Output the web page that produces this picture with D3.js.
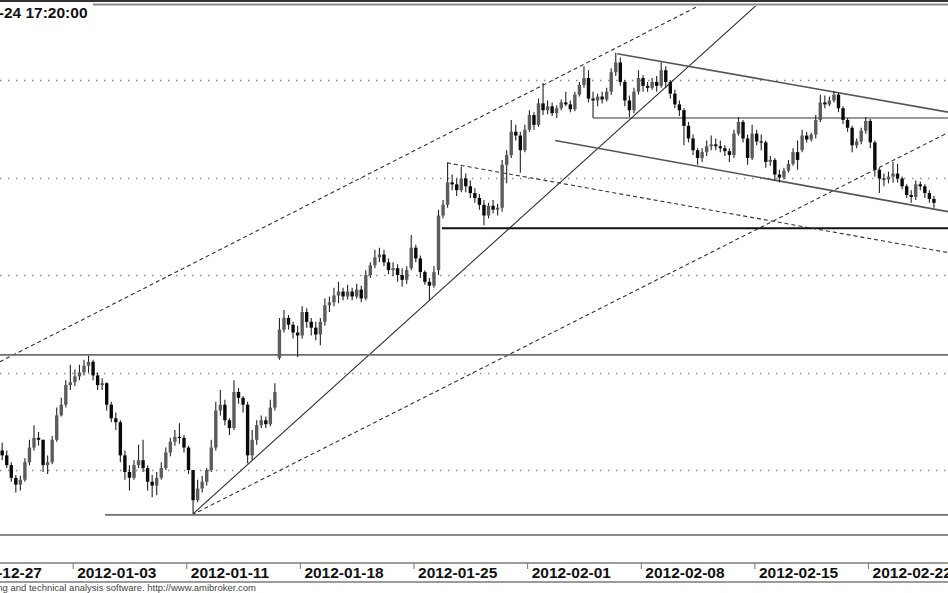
<!DOCTYPE html>
<html>
<head>
<meta charset="utf-8">
<script src="https://cdn.jsdelivr.net/npm/d3@7"></script>
<style>
  html, body { margin: 0; padding: 0; background: #fff; overflow: hidden; }
  svg { display: block; font-family: "Liberation Sans", Arial, sans-serif; }
</style>
</head>
<body>
<div class="container"></div>
<script>
// trading days shown on the chart (first one is mostly off screen)
var dates = ["2011-12-27","2011-12-28","2011-12-29","2011-12-30","2012-01-02","2012-01-03","2012-01-04","2012-01-05",
  "2012-01-09","2012-01-10","2012-01-11","2012-01-12","2012-01-13","2012-01-16","2012-01-17","2012-01-18",
  "2012-01-19","2012-01-20","2012-01-23","2012-01-24","2012-01-25","2012-01-26","2012-01-27","2012-01-30",
  "2012-01-31","2012-02-01","2012-02-02","2012-02-03","2012-02-06","2012-02-07","2012-02-08","2012-02-09",
  "2012-02-10","2012-02-13","2012-02-14","2012-02-15","2012-02-16","2012-02-17","2012-02-20","2012-02-21",
  "2012-02-22","2012-02-23","2012-02-24"];
var tickDates = ["2011-12-27","2012-01-03","2012-01-11","2012-01-18","2012-01-25","2012-02-01","2012-02-08","2012-02-15","2012-02-22"];
var gridPrices = [2100, 2200, 2300, 2400, 2500];
var firstDay = 1;      // bars start on 2011-12-28
var barsPerDay = 5;

var open = [
  2123,2126,2123,2118,2120, 2115,2105,2092,2085,2090, 2108,2123,2133,2131,2105, 2108,2131,2156,2167,2187,
  2190,2196,2200,2207,2211, 2197,2187,2189,2167,2153, 2149,2115,2098,2092,2105, 2110,2102,2088,2084,2092,
  2102,2118,2129,2134,2133, 2123,2100,2069,2081,2088, 2100,2123,2161,2167,2151, 2143,2180,2174,2167,2115,
  2131,2146,2151,2147,2164, 2215,2244,2256,2249,2241, 2238,2262,2252,2246,2239, 2252,2269,2272,2279,2283,
  2278,2283,2278,2285,2276, 2300,2310,2318,2321,2313, 2305,2307,2300,2295,2307, 2328,2317,2303,2293,2289,
  2305,2361,2372,2395,2393, 2387,2399,2391,2384,2379, 2372,2361,2371,2367,2369, 2413,2423,2447,2443,2428,
  2449,2464,2454,2476,2469, 2473,2466,2471,2477,2475, 2470,2485,2495,2502,2481, 2479,2483,2480,2488,2508,
  2518,2498,2479,2469,2488, 2502,2494,2492,2498,2494, 2510,2498,2486,2475,2469, 2453,2440,2428,2420,2426,
  2432,2434,2432,2430,2427, 2423,2445,2457,2440,2420, 2445,2437,2436,2416,2418, 2403,2400,2407,2414,2426,
  2428,2443,2439,2444,2459, 2477,2475,2479,2485,2471, 2459,2451,2433,2437,2448, 2458,2436,2408,2399,2398,
  2401,2404,2399,2391,2382, 2380,2393,2391,2384,2378
];
var high = [
  2131,2129,2126,2127,2128, 2120,2108,2095,2094,2112, 2131,2146,2139,2131,2115, 2135,2164,2174,2192,2208,
  2203,2208,2213,2217,2213, 2200,2194,2190,2170,2159, 2151,2120,2105,2110,2126, 2131,2105,2095,2098,2108,
  2123,2133,2141,2148,2136, 2125,2100,2090,2094,2102, 2131,2170,2182,2172,2153, 2192,2184,2176,2170,2141,
  2151,2156,2155,2172,2189, 2256,2264,2259,2252,2248, 2268,2266,2256,2252,2256, 2276,2278,2287,2293,2287,
  2290,2287,2291,2289,2305, 2313,2326,2328,2326,2317, 2313,2311,2307,2309,2341, 2331,2320,2305,2297,2309,
  2367,2377,2415,2403,2399, 2411,2404,2397,2389,2383, 2377,2374,2377,2373,2418, 2428,2459,2454,2447,2454,
  2469,2467,2481,2497,2479, 2477,2474,2480,2488,2479, 2488,2498,2514,2510,2488, 2486,2488,2492,2512,2528,
  2523,2500,2484,2492,2510, 2505,2498,2502,2504,2518, 2514,2500,2490,2479,2471, 2457,2444,2430,2430,2438,
  2443,2440,2438,2433,2430, 2449,2462,2459,2444,2454, 2449,2444,2438,2422,2420, 2408,2410,2418,2430,2438,
  2449,2447,2446,2464,2485, 2484,2483,2489,2487,2473, 2461,2453,2440,2451,2462, 2460,2438,2410,2404,2406,
  2416,2414,2401,2393,2387, 2397,2396,2393,2387,2381
];
var low = [
  2118,2117,2114,2115,2110, 2102,2088,2077,2079,2088, 2105,2120,2125,2098,2096, 2106,2129,2155,2164,2182,
  2186,2192,2197,2200,2192, 2182,2182,2161,2149,2141, 2108,2090,2079,2090,2102, 2098,2079,2072,2074,2090,
  2100,2114,2125,2127,2118, 2096,2056,2067,2077,2084, 2098,2120,2156,2146,2136, 2141,2168,2159,2107,2110,
  2126,2143,2143,2145,2161, 2213,2241,2244,2235,2216, 2235,2246,2238,2233,2228, 2248,2262,2268,2271,2274,
  2275,2274,2276,2272,2274, 2297,2307,2313,2309,2301, 2299,2293,2288,2291,2305, 2313,2297,2290,2274,2287,
  2300,2358,2369,2387,2381, 2385,2385,2379,2374,2367, 2351,2358,2363,2361,2365, 2394,2420,2438,2405,2426,
  2447,2449,2452,2464,2465, 2463,2461,2469,2473,2467, 2468,2483,2492,2477,2461, 2473,2476,2478,2485,2504,
  2494,2473,2462,2466,2485, 2488,2488,2490,2488,2492, 2492,2481,2471,2463,2433, 2436,2423,2413,2416,2422,
  2428,2428,2426,2422,2416, 2420,2443,2436,2413,2418, 2433,2428,2410,2412,2397, 2395,2398,2405,2412,2408,
  2426,2436,2437,2440,2457, 2471,2473,2477,2467,2455, 2447,2426,2430,2434,2445, 2430,2401,2384,2391,2394,
  2395,2395,2388,2379,2374, 2377,2387,2379,2374,2369
];
var close = [
  2126,2123,2118,2120,2115, 2105,2092,2085,2090,2108, 2123,2133,2131,2105,2108, 2131,2156,2167,2187,2190,
  2196,2200,2207,2211,2197, 2187,2189,2167,2153,2149, 2115,2098,2092,2105,2110, 2102,2088,2084,2092,2102,
  2118,2129,2134,2133,2123, 2100,2069,2081,2088,2100, 2123,2161,2167,2151,2143, 2180,2174,2167,2115,2131,
  2146,2151,2147,2164,2180, 2244,2256,2249,2241,2238, 2262,2252,2246,2239,2252, 2269,2272,2279,2283,2278,
  2283,2278,2285,2276,2300, 2310,2318,2321,2313,2305, 2307,2300,2295,2305,2328, 2317,2303,2293,2289,2303,
  2361,2372,2395,2393,2387, 2399,2391,2384,2379,2372, 2361,2371,2367,2369,2413, 2423,2447,2443,2428,2449,
  2464,2454,2476,2469,2473, 2466,2471,2477,2475,2470, 2485,2495,2502,2481,2479, 2483,2480,2488,2508,2518,
  2498,2479,2469,2488,2502, 2494,2492,2498,2494,2510, 2498,2486,2475,2469,2453, 2440,2428,2420,2426,2432,
  2434,2432,2430,2427,2423, 2445,2457,2440,2420,2445, 2437,2436,2416,2418,2403, 2400,2407,2414,2426,2418,
  2443,2439,2444,2459,2477, 2475,2479,2485,2471,2459, 2451,2433,2437,2448,2458, 2436,2408,2399,2398,2401,
  2404,2399,2391,2382,2380, 2393,2391,2384,2378,2374
];

// drawn studies: [day position, price] at both ends
var studyLines = [
  {a: [1.80, 2211], b: [33.05, 2582], style: "dash"},
  {a: [10.25, 2054], b: [35.34, 2582], style: "thin"},
  {a: [10.25, 2054], b: [43.52, 2446], style: "dash"},
  {a: [0.00, 2218], b: [43.52, 2218], style: "gray"},
  {a: [6.43, 2054], b: [43.52, 2054], style: "gray"},
  {a: [21.25, 2348], b: [43.52, 2348], style: "bold"},
  {a: [27.90, 2461], b: [43.52, 2461], style: "thin"},
  {a: [28.96, 2527], b: [43.52, 2467], style: "mid"},
  {a: [26.23, 2438], b: [43.52, 2365], style: "mid"},
  {a: [21.47, 2415], b: [43.52, 2323], style: "dash"}
];

var W = 948, H = 593;
var plotTop = 6, plotBottom = 535, axisTop = 563, axisBottom = 582;

var svg = d3.select(".container").append("svg")
  .attr("width", W).attr("height", H);

var x = d3.scaleLinear().domain([0, dates.length]).range([-41, 936.2]);
var y = d3.scaleLinear().domain([2100, 2500]).range([470, 80]);

svg.append("clipPath").attr("id", "plot")
  .append("rect").attr("x", 0).attr("y", plotTop).attr("width", W).attr("height", plotBottom - plotTop);

/* ===== frame ===== */
svg.append("line").attr("x1", 0).attr("x2", W).attr("y1", 1).attr("y2", 1)
  .attr("stroke", "#333").attr("stroke-width", 2);
svg.append("line").attr("x1", 93).attr("x2", W).attr("y1", 4.5).attr("y2", 4.5)
  .attr("stroke", "#8a8a8a").attr("stroke-width", 2);
svg.append("line").attr("x1", 0).attr("x2", W).attr("y1", plotBottom).attr("y2", plotBottom)
  .attr("stroke", "#8a8a8a").attr("stroke-width", 2);

/* ===== grid ===== */
svg.append("g")
  .selectAll("line").data(gridPrices).enter().append("line")
  .attr("x1", 0).attr("x2", W)
  .attr("y1", function(d) { return Math.round(y(d)) + 0.5; })
  .attr("y2", function(d) { return Math.round(y(d)) + 0.5; })
  .attr("stroke", "#8c8c8c").attr("stroke-width", 1.3)
  .attr("stroke-dasharray", "1.5,6.5");

/* ===== study lines ===== */
var styles = {
  dash: {c: "#333", w: 1.1, d: "4,3"},
  thin: {c: "#333", w: 1.1, d: null},
  gray: {c: "#6e6e6e", w: 1.8, d: null},
  bold: {c: "#111", w: 2, d: null},
  mid:  {c: "#555", w: 1.6, d: null}
};
svg.append("g").attr("clip-path", "url(#plot)")
  .selectAll("line").data(studyLines).enter().append("line")
  .attr("x1", function(d) { return x(d.a[0]); })
  .attr("y1", function(d) { return y(d.a[1]); })
  .attr("x2", function(d) { return x(d.b[0]); })
  .attr("y2", function(d) { return y(d.b[1]); })
  .attr("stroke", function(d) { return styles[d.style].c; })
  .attr("stroke-width", function(d) { return styles[d.style].w; })
  .attr("stroke-dasharray", function(d) { return styles[d.style].d; });

/* ===== price bars ===== */
var bars = close.map(function(c, i) {
  return {
    pos: firstDay + Math.floor(i / barsPerDay) + ((i % barsPerDay) + 0.5) / barsPerDay,
    o: open[i], h: high[i], l: low[i], c: c
  };
});

var g = svg.append("g").attr("clip-path", "url(#plot)");
var bar = g.selectAll("g").data(bars).enter().append("g");
bar.append("line")
  .attr("x1", function(d) { return x(d.pos); })
  .attr("x2", function(d) { return x(d.pos); })
  .attr("y1", function(d) { return y(d.h); })
  .attr("y2", function(d) { return y(d.l); })
  .attr("stroke", "#222").attr("stroke-width", 1.1);
bar.append("rect")
  .attr("x", function(d) { return x(d.pos) - 1.7; })
  .attr("width", 3.4)
  .attr("y", function(d) { return y(Math.max(d.o, d.c)); })
  .attr("height", function(d) { return Math.max(1.2, Math.abs(y(d.o) - y(d.c))); })
  .attr("fill", function(d) { return d.c >= d.o ? "#5c5c5c" : "#0a0a0a"; });

/* ===== date axis ===== */
svg.append("line").attr("x1", 0).attr("x2", W).attr("y1", axisTop).attr("y2", axisTop)
  .attr("stroke", "#7a7a7a").attr("stroke-width", 1.5);
svg.append("line").attr("x1", 0).attr("x2", W).attr("y1", axisBottom).attr("y2", axisBottom)
  .attr("stroke", "#7a7a7a").attr("stroke-width", 1.5);

var xAxis = d3.axisBottom(x)
  .tickValues(tickDates.map(function(t) { return dates.indexOf(t); }))
  .tickSize(6)
  .tickFormat(function(i) { return dates[i]; });

var ax = svg.append("g")
  .attr("transform", "translate(0," + axisTop + ")")
  .call(xAxis);
ax.select(".domain").remove();
ax.selectAll(".tick line").attr("stroke", "#777");
ax.selectAll(".tick text")
  .attr("y", 14.5).attr("dy", 0).attr("x", 4)
  .style("text-anchor", "start")
  .style("font", "bold 15.5px 'Liberation Sans', Arial, sans-serif")
  .attr("fill", "#111");

/* ===== texts ===== */
svg.append("text")
  .attr("x", 87.5).attr("y", 18)
  .style("text-anchor", "end")
  .style("font", "bold 15.5px 'Liberation Sans', Arial, sans-serif")
  .attr("fill", "#111")
  .text("2012-02-24 17:20:00");

svg.append("text")
  .attr("x", 256).attr("y", 591)
  .style("text-anchor", "end")
  .style("font", "9.5px 'Liberation Sans', Arial, sans-serif")
  .attr("fill", "#444")
  .text("AmiBroker - charting and technical analysis software. http://www.amibroker.com");
</script>
</body>
</html>
